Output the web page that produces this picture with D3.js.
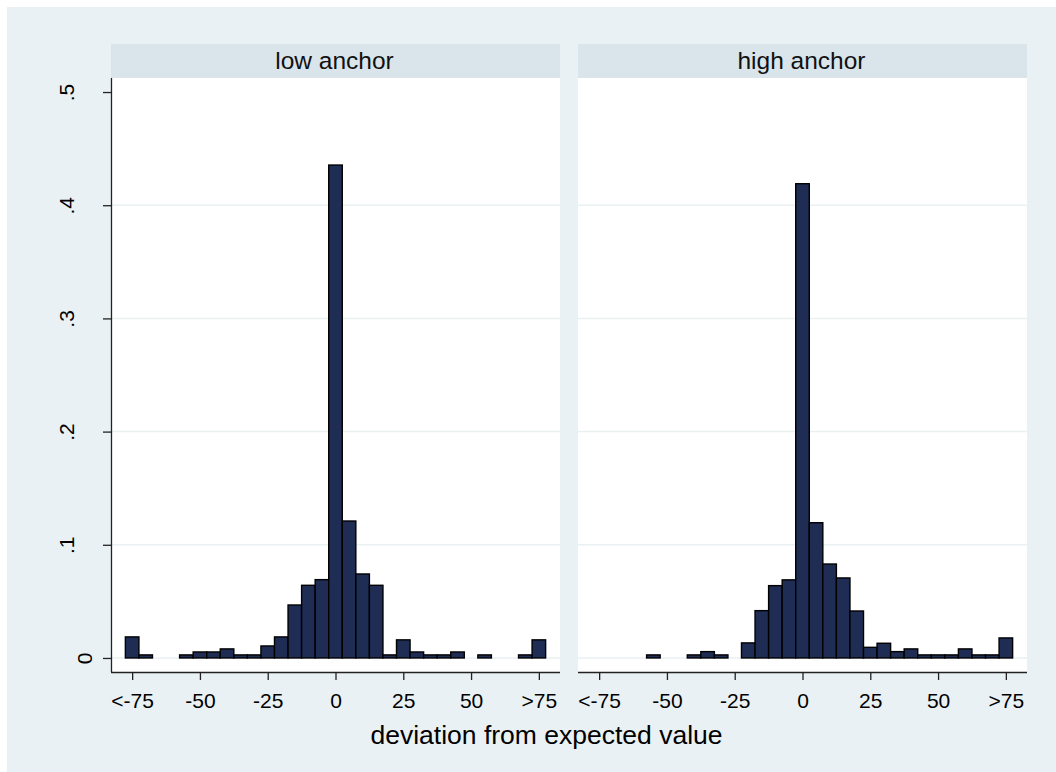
<!DOCTYPE html>
<html>
<head>
<meta charset="utf-8">
<script src="https://cdn.jsdelivr.net/npm/d3@7"></script>
<style>
  html, body { margin: 0; padding: 0; background: #ffffff; }
  svg { display: block; font-family: "Liberation Sans", Arial, Helvetica, sans-serif; }
</style>
</head>
<body>
<svg id="chart" width="1056" height="772"></svg>
<script>
// ---- data ----
const binCenters = [-75, -70, -65, -60, -55, -50, -45, -40, -35, -30, -25, -20, -15, -10, -5, 0,
                    5, 10, 15, 20, 25, 30, 35, 40, 45, 50, 55, 60, 65, 70, 75];
const lowAnchor = [0.0186, 0.0027, 0, 0, 0.0027, 0.0053, 0.0053, 0.008, 0.0027, 0.0027, 0.0106, 0.0186,
                   0.0468, 0.0642, 0.0692, 0.4355, 0.121, 0.0742, 0.0642, 0.0027, 0.016, 0.0053,
                   0.0027, 0.0027, 0.0053, 0, 0.0027, 0, 0, 0.0027, 0.016];
const highAnchor = [0, 0, 0, 0, 0.0027, 0, 0, 0.0027, 0.0056, 0.0027, 0, 0.0133,
                    0.0418, 0.0639, 0.069, 0.419, 0.1195, 0.083, 0.0707, 0.0415, 0.0094, 0.013,
                    0.0056, 0.008, 0.0027, 0.0027, 0.0027, 0.008, 0.0027, 0.0027, 0.0177];
const panelTitles = ["low anchor", "high anchor"];
const xTickValues = [-75, -50, -25, 0, 25, 50, 75];
const xTickLabels = ["<-75", "-50", "-25", "0", "25", "50", ">75"];
const yTickValues = [0, 0.1, 0.2, 0.3, 0.4, 0.5];
const yTickLabels = ["0", ".1", ".2", ".3", ".4", ".5"];
const xAxisTitle = "deviation from expected value";
const binWidth = 5;

// ---- layout ----
const W = 1056, H = 772;
const svg = d3.select("#chart");
const bg = "#eaf1f4", headerFill = "#d9e4eb", gridColor = "#e9f1f3", barFill = "#1f2d55";

svg.append("rect").attr("x", 7).attr("y", 7).attr("width", W - 7).attr("height", H - 7).attr("fill", bg);

const plotTop = 78, plotBottom = 672;
const panels = [{x0: 111, x1: 560, values: lowAnchor}, {x0: 578, x1: 1027, values: highAnchor}];
const y = d3.scaleLinear().domain([-0.0124, 0.5124]).range([plotBottom, plotTop]);

panels.forEach((p, i) => {
  const x = d3.scaleLinear().domain([-82.8, 82.8]).range([p.x0, p.x1]);
  const g = svg.append("g");

  // header strip
  g.append("rect").attr("x", p.x0).attr("y", 44).attr("width", p.x1 - p.x0).attr("height", plotTop - 44)
    .attr("fill", headerFill);
  g.append("text").attr("x", (p.x0 + p.x1) / 2 - 1).attr("y", 68.5).attr("text-anchor", "middle")
    .attr("font-size", 24.5).attr("fill", "#111").text(panelTitles[i]);

  // plot area
  g.append("rect").attr("x", p.x0).attr("y", plotTop).attr("width", p.x1 - p.x0).attr("height", plotBottom - plotTop)
    .attr("fill", "#ffffff");

  // gridlines
  g.selectAll(".grid").data(yTickValues.filter(v => v < 0.5)).enter().append("line")
    .attr("x1", p.x0).attr("x2", p.x1).attr("y1", d => y(d)).attr("y2", d => y(d))
    .attr("stroke", gridColor).attr("stroke-width", 1.5);

  // bars
  const data = binCenters.map((c, k) => ({c, v: p.values[k]})).filter(d => d.v > 0);
  g.selectAll(".bar").data(data).enter().append("rect")
    .attr("x", d => x(d.c - binWidth / 2))
    .attr("width", d => x(d.c + binWidth / 2) - x(d.c - binWidth / 2))
    .attr("y", d => y(d.v))
    .attr("height", d => y(0) - y(d.v))
    .attr("fill", barFill).attr("stroke", "#000").attr("stroke-width", 1.4);

  // x axis
  const xAxis = d3.axisBottom(x).tickValues(xTickValues).tickSize(8).tickPadding(7)
    .tickFormat((d, k) => xTickLabels[k]);
  const xg = g.append("g").attr("transform", `translate(0,${plotBottom})`).call(xAxis);
  xg.select(".domain").attr("d", `M${p.x0},0.5H${p.x1}`).attr("stroke", "#222").attr("stroke-width", 1.3);
  xg.selectAll(".tick line").attr("stroke", "#222").attr("stroke-width", 1.3);
  xg.selectAll(".tick text").attr("font-size", 21).attr("fill", "#000")
    .attr("font-family", "Liberation Sans, Arial, sans-serif").attr("dy", null).attr("y", 36);

  // y axis (left panel only)
  if (i === 0) {
    const yAxis = d3.axisLeft(y).tickValues(yTickValues).tickSize(8).tickFormat((d, k) => yTickLabels[k]);
    const yg = g.append("g").attr("transform", `translate(${p.x0},0)`).call(yAxis);
    yg.select(".domain").attr("d", `M0.5,${plotTop}V${plotBottom}`).attr("stroke", "#222").attr("stroke-width", 1.3);
    yg.selectAll(".tick line").attr("stroke", "#222").attr("stroke-width", 1.3);
    yg.selectAll(".tick text")
      .attr("font-size", 21).attr("fill", "#000").attr("font-family", "Liberation Sans, Arial, sans-serif")
      .attr("text-anchor", "middle").attr("x", null).attr("dy", null)
      .attr("transform", (d, k) => `translate(${yTickLabels[k] === "0" ? -19 : -37},0) rotate(-90)`);
  }
});

// x axis title
svg.append("text").attr("x", 546.5).attr("y", 744).attr("text-anchor", "middle")
  .attr("font-size", 26.5).attr("fill", "#000").text(xAxisTitle);
</script>
</body>
</html>
